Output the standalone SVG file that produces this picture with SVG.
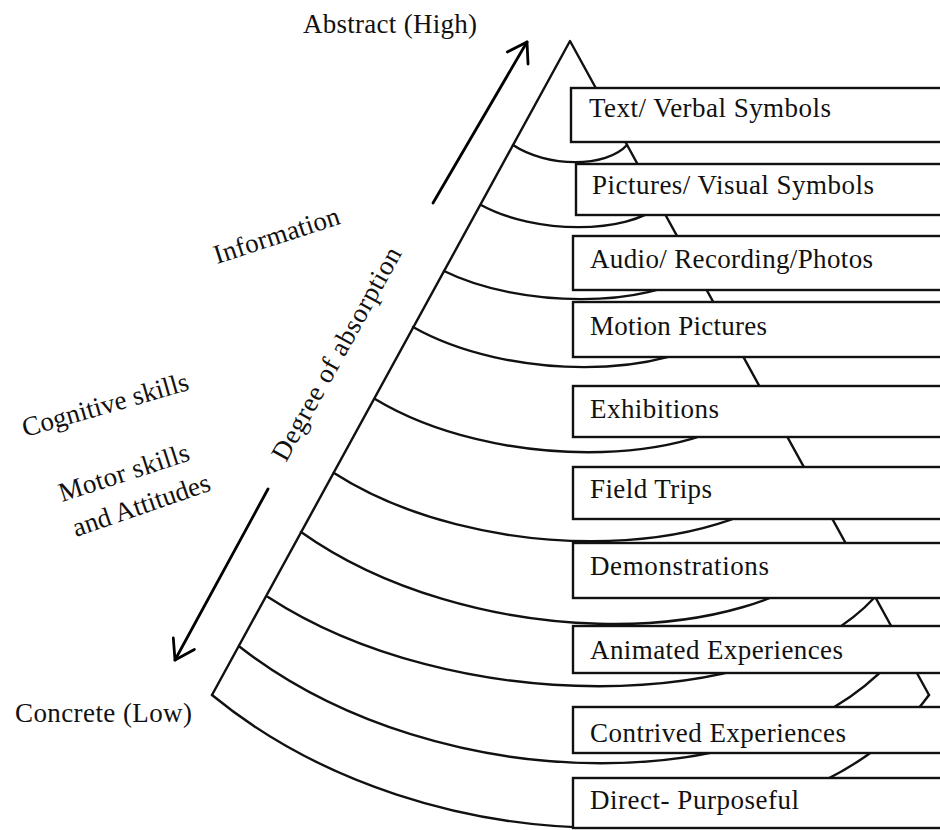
<svg xmlns="http://www.w3.org/2000/svg" width="940" height="830" viewBox="0 0 940 830">
<defs>
<style>
.t{font-family:"Liberation Serif","Times New Roman",serif;font-size:27px;fill:#111}
.ln{fill:none;stroke:#111;stroke-width:2.4;stroke-linecap:round;stroke-linejoin:round}
.box{fill:#fff;stroke:#111;stroke-width:2.4}
.ar{fill:none;stroke:#000;stroke-width:2.8;stroke-linecap:round}
</style>
<marker id="head" markerUnits="userSpaceOnUse" markerWidth="30" markerHeight="30" viewBox="-25 -15 30 30" refX="0" refY="0" orient="auto" overflow="visible">
<path d="M-18.5 -12 L0 0 L-18.5 12" fill="none" stroke="#000" stroke-width="2.8" stroke-linecap="round" stroke-linejoin="round"/>
</marker>
</defs>
<rect x="0" y="0" width="940" height="830" fill="#fff"/>

<g id="cone">
<path class="ln" d="M212 695 L570 41 L929 695"/>
<path class="ln" d="M513 145 C547.2 167.8 606.5 167.8 627 145"/>
<path class="ln" d="M481 205 C534.7 234.5 627.8 234.5 660 205"/>
<path class="ln" d="M444 271 C519.6 308.5 650.6 308.5 696 271"/>
<path class="ln" d="M413 327 C507.2 380.5 670.5 380.5 727 327"/>
<path class="ln" d="M375 399 C492.3 470 695.6 470 766 399"/>
<path class="ln" d="M334 473 C475.9 564 721.9 564 807 473"/>
<path class="ln" d="M301 532 C464.8 648.5 748.7 655 847 548"/>
<path class="ln" d="M268 597 C450.1 716 765.7 716 875 597"/>
<path class="ln" d="M240 647 C438.9 802 783.7 802 903 647"/>
<path class="ln" d="M212 695 C427.1 872 799.9 872 929 695"/>
</g>

<g id="levels">
<g id="n1"><rect class="box" x="571" y="88" width="390" height="54"/><text class="t" x="589" y="117" textLength="242">Text/ Verbal Symbols</text></g>
<g id="n2"><rect class="box" x="576" y="164" width="385" height="51"/><text class="t" x="592" y="194" textLength="282">Pictures/ Visual Symbols</text></g>
<g id="n3"><rect class="box" x="573" y="236" width="388" height="54"/><text class="t" x="590" y="268" textLength="283">Audio/ Recording/Photos</text></g>
<g id="n4"><rect class="box" x="573" y="302" width="388" height="55"/><text class="t" x="590" y="335" textLength="177">Motion Pictures</text></g>
<g id="n5"><rect class="box" x="573" y="386" width="388" height="51"/><text class="t" x="590" y="418" textLength="129">Exhibitions</text></g>
<g id="n6"><rect class="box" x="573" y="467" width="388" height="52"/><text class="t" x="590" y="498" textLength="122">Field Trips</text></g>
<g id="n7"><rect class="box" x="573" y="543" width="388" height="55"/><text class="t" x="590" y="575" textLength="179">Demonstrations</text></g>
<g id="n8"><rect class="box" x="573" y="626" width="388" height="47"/><text class="t" x="590" y="659" textLength="253">Animated Experiences</text></g>
<g id="n9"><rect class="box" x="573" y="707" width="388" height="46"/><text class="t" x="590" y="742" textLength="256">Contrived Experiences</text></g>
<g id="n10"><rect class="box" x="573" y="778" width="388" height="50"/><text class="t" x="590" y="809" textLength="209">Direct- Purposeful</text></g>
</g>

<g id="connectors">
<line class="ar" x1="433" y1="203" x2="527" y2="42" marker-end="url(#head)"/>
<line class="ar" x1="268" y1="489" x2="175" y2="660" marker-end="url(#head)"/>
</g>

<g id="labels">
<text class="t" x="303" y="33" textLength="174">Abstract (High)</text>
<text class="t" x="15" y="722" textLength="177">Concrete (Low)</text>
<text class="t" transform="translate(217 264) rotate(-18)" textLength="131">Information</text>
<text class="t" transform="translate(25 437) rotate(-16)" textLength="172">Cognitive skills</text>
<text class="t" transform="translate(62 502) rotate(-18)" textLength="136">Motor skills</text>
<text class="t" transform="translate(76 537) rotate(-19)" textLength="144">and Attitudes</text>
<text class="t" transform="translate(286 463) rotate(-61)" textLength="240">Degree of absorption</text>
</g>
</svg>
